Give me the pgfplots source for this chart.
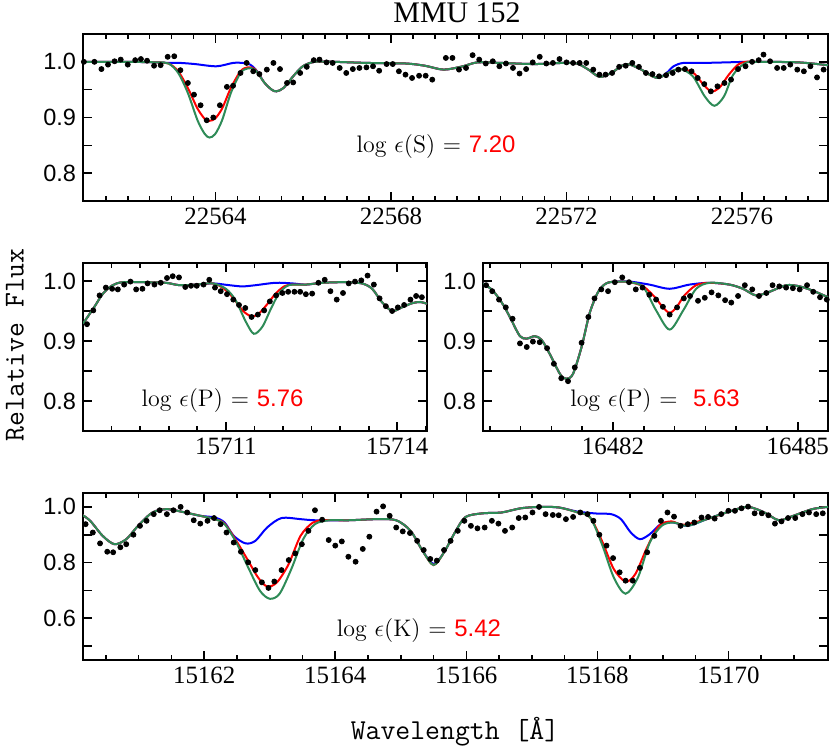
\documentclass[border=0pt]{standalone}
\usepackage{fontspec}
\usepackage{pgfplots}
\pgfplotsset{compat=1.18}
\newfontfamily\lsans{Liberation Sans}
\newfontfamily\lserif{Liberation Serif}
\definecolor{sgreen}{RGB}{46,139,87}
\pgfplotsset{
  panel/.style={scale only axis, anchor=south west,
    axis line style={line width=1bp},
    tick style={black, line width=0.8bp},
    major tick length=4.5bp, minor tick length=2.5bp,
    tick align=inside, scaled x ticks=false, scaled y ticks=false,
    xticklabel style={font=\lserif\fontsize{12.5}{12.5}\selectfont},
    yticklabel style={font=\lsans\fontsize{11.8}{11.8}\selectfont},
    clip=true},
  dots/.style={only marks, mark=*, mark size=1.25bp, black},
  mb/.style={blue, line width=1bp, smooth, mark=none},
  mr/.style={red, line width=1bp, smooth, mark=none},
  mg/.style={sgreen, line width=1bp, smooth, mark=none},
}
\newcommand{\ann}{\fontsize{12}{12}\selectfont}
\begin{document}
\begin{tikzpicture}
\useasboundingbox (0,0) rectangle (415.5bp,374.5bp);
% ---------------- top panel: S (x offset from 22560)
\begin{axis}[panel, at={(41.5bp,274bp)}, width=372.5bp, height=83.5bp,
  xmin=0.98, xmax=17.96, ymin=0.75, ymax=1.05,
  xtick={4,8,12,16}, xticklabels={22564,22568,22572,22576},
  minor xtick={1.5,2,...,17.5},
  ytick={0.8,0.85,0.9,0.95,1.0}, yticklabels={0.8,,0.9,,1.0}]
\addplot[mb] coordinates {(0.91,1.000) (2.00,1.000) (2.66,0.999) (2.93,0.998) (3.20,0.998) (3.53,0.996) (4.02,0.992) (4.40,0.998) (4.62,0.998) (4.79,0.995) (4.95,0.983) (5.11,0.963) (5.28,0.950) (5.39,0.947) (5.55,0.953) (5.77,0.974) (5.99,0.992) (6.26,1.000) (6.70,1.000) (7.46,0.998) (8.33,0.997) (8.77,0.993) (9.20,0.986) (9.64,0.992) (9.97,0.999) (10.51,0.998) (11.28,0.996) (12.15,0.998) (12.48,0.987) (12.75,0.973) (13.02,0.980) (13.35,0.996) (13.68,0.987) (14.06,0.971) (14.28,0.980) (14.44,0.992) (14.66,0.998) (15.09,0.998) (15.64,0.999) (16.08,1.000) (16.40,1.000) (17.28,0.999) (17.96,0.994)};
\addplot[mr] coordinates {(0.91,1.000) (2.00,1.000) (2.66,0.999) (2.93,0.997) (3.15,0.983) (3.37,0.953) (3.59,0.916) (3.77,0.896) (3.86,0.894) (3.99,0.898) (4.15,0.916) (4.35,0.953) (4.57,0.983) (4.73,0.990) (4.90,0.987) (5.11,0.963) (5.28,0.950) (5.39,0.947) (5.55,0.953) (5.77,0.974) (5.99,0.992) (6.26,1.000) (6.70,1.000) (7.46,0.998) (8.33,0.997) (8.77,0.993) (9.20,0.986) (9.64,0.992) (9.97,0.999) (10.51,0.998) (11.28,0.996) (12.15,0.998) (12.48,0.987) (12.75,0.973) (13.02,0.980) (13.35,0.996) (13.68,0.987) (14.06,0.971) (14.39,0.983) (14.60,0.987) (14.88,0.981) (15.09,0.962) (15.29,0.947) (15.48,0.953) (15.70,0.977) (15.91,0.995) (16.08,1.000) (16.40,1.000) (17.28,0.999) (17.96,0.994)};
\addplot[mg] coordinates {(0.91,1.000) (2.00,1.000) (2.66,0.999) (2.93,0.997) (3.15,0.980) (3.37,0.944) (3.59,0.895) (3.75,0.871) (3.86,0.864) (3.99,0.870) (4.15,0.895) (4.35,0.944) (4.57,0.980) (4.73,0.988) (4.90,0.986) (5.11,0.963) (5.28,0.950) (5.39,0.947) (5.55,0.953) (5.77,0.974) (5.99,0.992) (6.26,1.000) (6.70,1.000) (7.46,0.998) (8.33,0.997) (8.77,0.993) (9.20,0.986) (9.64,0.992) (9.97,0.999) (10.51,0.998) (11.28,0.996) (12.15,0.998) (12.48,0.987) (12.75,0.973) (13.02,0.980) (13.35,0.996) (13.68,0.987) (14.06,0.971) (14.39,0.983) (14.60,0.987) (14.88,0.974) (15.15,0.938) (15.37,0.921) (15.59,0.938) (15.80,0.977) (16.08,0.998) (16.40,1.000) (17.28,0.999) (17.96,0.994)};
\addplot[dots] coordinates {(1.00,1.000) (1.24,1.000) (1.40,0.987) (1.55,0.995) (1.70,1.001) (1.84,1.004) (2.00,0.995) (2.17,1.003) (2.30,1.005) (2.44,1.002) (2.60,0.993) (2.75,0.994) (2.91,1.009) (3.06,1.010) (3.20,0.985) (3.37,0.962) (3.51,0.941) (3.66,0.922) (3.80,0.895) (3.95,0.900) (4.10,0.922) (4.26,0.955) (4.40,0.957) (4.57,0.980) (4.71,0.998) (4.86,0.983) (5.00,0.978) (5.17,0.986) (5.32,0.998) (5.47,0.987) (5.63,0.962) (5.77,0.963) (5.93,0.980) (6.08,0.991) (6.24,1.003) (6.37,1.004) (6.53,0.999) (6.67,0.998) (6.83,0.989) (6.98,0.980) (7.13,0.987) (7.28,0.989) (7.44,0.990) (7.59,0.992) (7.73,0.984) (7.90,0.996) (8.04,0.996) (8.18,0.983) (8.33,0.977) (8.48,0.971) (8.64,0.975) (8.79,0.975) (8.94,0.968) (9.25,1.007) (9.40,1.007) (9.55,0.986) (9.71,0.989) (9.86,1.012) (10.01,1.004) (10.16,0.997) (10.32,1.001) (10.47,0.992) (10.62,0.997) (10.78,0.989) (10.93,0.979) (11.08,0.987) (11.23,0.999) (11.39,1.009) (11.54,0.997) (11.69,0.998) (11.84,1.005) (12.00,0.999) (12.15,0.998) (12.30,0.998) (12.45,0.998) (12.61,0.986) (12.75,0.977) (12.89,0.977) (13.04,0.980) (13.20,0.991) (13.35,0.993) (13.50,0.998) (13.65,0.991) (13.81,0.980) (13.96,0.978) (14.11,0.974) (14.27,0.976) (14.42,0.980) (14.55,0.986) (14.70,0.987) (14.85,0.983) (14.99,0.971) (15.14,0.960) (15.29,0.947) (15.44,0.956) (15.60,0.962) (15.75,0.968) (15.91,0.987) (16.08,0.992) (16.23,1.000) (16.38,1.003) (16.49,1.013) (16.64,1.001) (16.80,0.989) (16.95,0.989) (17.10,0.995) (17.26,0.986) (17.41,0.983) (17.56,0.992) (17.71,0.972) (17.86,0.986)};
\node[anchor=west, inner sep=0pt] at (axis cs:7.21,0.847) {\ann log $\epsilon$(S) = \textcolor{red}{\lsans 7.20}};
\end{axis}
% ---------------- middle left: P (x offset from 15708)
\begin{axis}[panel, at={(41.5bp,159bp)}, width=172bp, height=84bp,
  xmin=0.5, xmax=6.52, ymin=0.75, ymax=1.03,
  xtick={3,6}, xticklabels={15711,15714},
  minor xtick={1,1.5,...,6.5},
  ytick={0.8,0.85,0.9,0.95,1.0}, yticklabels={0.8,,0.9,,1.0}]
\addplot[mb] coordinates {(0.50,0.929) (0.68,0.954) (0.85,0.979) (1.02,0.993) (1.20,0.998) (1.61,0.998) (1.95,0.997) (2.19,0.993) (2.48,0.994) (2.77,0.996) (3.06,0.993) (3.29,0.991) (3.52,0.993) (3.87,0.997) (4.16,0.996) (4.40,0.994) (4.69,0.997) (5.09,0.998) (5.38,0.996) (5.56,0.987) (5.73,0.965) (5.91,0.950) (6.08,0.956) (6.26,0.963) (6.40,0.965) (6.52,0.962)};
\addplot[mr] coordinates {(0.50,0.929) (0.68,0.954) (0.85,0.979) (1.02,0.993) (1.20,0.998) (1.61,0.998) (1.95,0.997) (2.19,0.993) (2.48,0.994) (2.77,0.996) (2.94,0.989) (3.12,0.973) (3.29,0.951) (3.45,0.941) (3.58,0.946) (3.73,0.962) (3.87,0.979) (4.02,0.991) (4.16,0.994) (4.40,0.994) (4.69,0.997) (5.09,0.998) (5.38,0.996) (5.56,0.987) (5.73,0.965) (5.91,0.950) (6.08,0.956) (6.26,0.963) (6.40,0.965) (6.52,0.962)};
\addplot[mg] coordinates {(0.50,0.929) (0.68,0.954) (0.85,0.979) (1.02,0.993) (1.20,0.998) (1.61,0.998) (1.95,0.997) (2.19,0.993) (2.48,0.994) (2.77,0.996) (3.00,0.987) (3.17,0.968) (3.35,0.932) (3.49,0.912) (3.64,0.924) (3.79,0.954) (3.93,0.979) (4.10,0.993) (4.40,0.994) (4.69,0.997) (5.09,0.998) (5.38,0.996) (5.56,0.987) (5.73,0.965) (5.91,0.950) (6.08,0.956) (6.26,0.963) (6.40,0.965) (6.52,0.962)};
\addplot[dots] coordinates {(0.57,0.928) (0.68,0.951) (0.79,0.976) (0.90,0.989) (1.01,0.987) (1.11,0.986) (1.22,0.994) (1.33,0.999) (1.43,0.986) (1.54,0.987) (1.63,0.996) (1.75,0.994) (1.86,0.997) (1.97,1.005) (2.07,1.008) (2.18,1.006) (2.29,0.990) (2.39,0.992) (2.49,0.992) (2.61,0.994) (2.71,1.002) (2.81,0.989) (2.91,0.983) (3.02,0.978) (3.13,0.969) (3.23,0.960) (3.34,0.955) (3.45,0.940) (3.56,0.944) (3.67,0.951) (3.77,0.966) (3.88,0.976) (3.99,0.980) (4.09,0.982) (4.20,0.982) (4.30,0.982) (4.40,0.978) (4.51,0.979) (4.62,0.997) (4.73,1.002) (4.83,0.983) (4.94,0.969) (5.05,0.980) (5.15,0.996) (5.26,0.999) (5.37,1.001) (5.48,1.009) (5.59,0.994) (5.69,0.971) (5.80,0.958) (5.91,0.950) (6.01,0.956) (6.12,0.960) (6.23,0.969) (6.33,0.975) (6.43,0.973)};
\node[anchor=west, inner sep=0pt] at (axis cs:1.52,0.801) {\ann log $\epsilon$(P) = \textcolor{red}{\lsans 5.76}};
\end{axis}
% ---------------- middle right: P (x offset from 16479)
\begin{axis}[panel, at={(241.5bp,159bp)}, width=172.5bp, height=84bp,
  xmin=0.89, xmax=6.49, ymin=0.75, ymax=1.03,
  xtick={3,6}, xticklabels={16482,16485},
  minor xtick={1,1.5,...,6},
  ytick={0.8,0.85,0.9,0.95,1.0}, yticklabels={0.8,,0.9,,1.0}]
\addplot[mb] coordinates {(0.89,0.996) (1.05,0.984) (1.22,0.960) (1.35,0.935) (1.49,0.908) (1.60,0.904) (1.73,0.908) (1.84,0.902) (1.97,0.879) (2.14,0.845) (2.24,0.837) (2.35,0.845) (2.49,0.890) (2.62,0.946) (2.76,0.982) (2.89,0.996) (3.05,0.999) (3.27,0.999) (3.59,0.994) (3.92,0.987) (4.24,0.994) (4.57,0.997) (4.89,0.994) (5.11,0.987) (5.32,0.976) (5.54,0.982) (5.81,0.993) (6.03,0.991) (6.24,0.984) (6.49,0.973)};
\addplot[mr] coordinates {(0.89,0.996) (1.05,0.984) (1.22,0.960) (1.35,0.935) (1.49,0.908) (1.60,0.904) (1.73,0.908) (1.84,0.902) (1.97,0.879) (2.14,0.845) (2.24,0.837) (2.35,0.845) (2.49,0.890) (2.62,0.946) (2.76,0.982) (2.89,0.996) (3.05,0.999) (3.27,0.998) (3.49,0.991) (3.68,0.973) (3.81,0.956) (3.92,0.947) (4.03,0.956) (4.16,0.976) (4.35,0.993) (4.57,0.997) (4.89,0.994) (5.11,0.987) (5.32,0.976) (5.54,0.982) (5.81,0.993) (6.03,0.991) (6.24,0.984) (6.49,0.973)};
\addplot[mg] coordinates {(0.89,0.996) (1.05,0.984) (1.22,0.960) (1.35,0.935) (1.49,0.908) (1.60,0.904) (1.73,0.908) (1.84,0.902) (1.97,0.879) (2.14,0.845) (2.24,0.837) (2.35,0.845) (2.49,0.890) (2.62,0.946) (2.76,0.982) (2.89,0.996) (3.05,0.999) (3.27,0.998) (3.49,0.990) (3.70,0.951) (3.92,0.919) (4.14,0.951) (4.35,0.987) (4.57,0.997) (4.89,0.994) (5.11,0.987) (5.32,0.976) (5.54,0.982) (5.81,0.993) (6.03,0.991) (6.24,0.984) (6.49,0.973)};
\addplot[dots] coordinates {(0.94,0.993) (1.04,0.983) (1.15,0.969) (1.26,0.956) (1.37,0.937) (1.49,0.896) (1.60,0.890) (1.70,0.899) (1.81,0.898) (1.93,0.888) (2.04,0.862) (2.16,0.838) (2.27,0.833) (2.38,0.856) (2.49,0.897) (2.60,0.940) (2.70,0.971) (2.81,0.986) (2.92,0.983) (3.03,0.998) (3.15,1.006) (3.26,0.998) (3.37,0.986) (3.48,0.989) (3.59,0.977) (3.70,0.969) (3.81,0.957) (3.92,0.944) (4.04,0.956) (4.15,0.971) (4.25,0.975) (4.38,0.967) (4.49,0.972) (4.60,0.981) (4.71,0.976) (4.82,0.968) (4.92,0.964) (5.03,0.975) (5.14,0.993) (5.26,0.986) (5.37,0.975) (5.49,0.980) (5.59,0.993) (5.70,0.991) (5.81,0.989) (5.92,0.988) (6.03,0.986) (6.15,0.993) (6.25,0.982) (6.36,0.973) (6.47,0.969)};
\node[anchor=west, inner sep=0pt] at (axis cs:2.30,0.801) {\ann log $\epsilon$(P) =\ \ \textcolor{red}{\lsans 5.63}};
\end{axis}
% ---------------- bottom: K (x offset from 15160)
\begin{axis}[panel, at={(41.5bp,44.5bp)}, width=372.5bp, height=83.5bp,
  xmin=0.15, xmax=11.52, ymin=0.45, ymax=1.05,
  xtick={2,4,6,8,10}, xticklabels={15162,15164,15166,15168,15170},
  minor xtick={0.5,1,...,11},
  ytick={0.5,0.6,0.7,0.8,0.9,1.0}, yticklabels={,0.6,,0.8,,1.0}]
\addplot[mb] coordinates {(0.12,0.974) (0.26,0.950) (0.45,0.896) (0.63,0.866) (0.81,0.884) (0.99,0.932) (1.21,0.980) (1.43,0.992) (1.65,0.983) (1.94,0.968) (2.16,0.962) (2.31,0.944) (2.45,0.896) (2.63,0.869) (2.78,0.878) (2.96,0.926) (3.18,0.960) (3.47,0.956) (3.69,0.952) (4.20,0.952) (4.64,0.956) (4.93,0.952) (5.15,0.914) (5.33,0.843) (5.50,0.795) (5.66,0.837) (5.84,0.914) (5.99,0.964) (6.25,0.977) (6.54,0.980) (6.83,0.995) (7.12,1.000) (7.41,0.998) (7.70,0.983) (8.00,0.976) (8.21,0.974) (8.36,0.956) (8.51,0.908) (8.65,0.884) (8.80,0.902) (8.98,0.940) (9.16,0.944) (9.38,0.932) (9.67,0.956) (9.97,0.980) (10.29,1.000) (10.55,0.980) (10.77,0.952) (10.99,0.968) (11.28,0.992) (11.52,1.000)};
\addplot[mr] coordinates {(0.12,0.974) (0.26,0.950) (0.45,0.896) (0.63,0.866) (0.81,0.884) (0.99,0.932) (1.21,0.980) (1.43,0.992) (1.65,0.983) (1.94,0.968) (2.16,0.956) (2.31,0.940) (2.49,0.878) (2.67,0.807) (2.82,0.747) (2.96,0.714) (3.11,0.729) (3.29,0.795) (3.47,0.896) (3.66,0.944) (3.84,0.952) (4.20,0.952) (4.64,0.956) (4.93,0.952) (5.15,0.914) (5.33,0.843) (5.50,0.791) (5.66,0.837) (5.84,0.914) (5.99,0.964) (6.25,0.977) (6.54,0.980) (6.83,0.995) (7.12,1.000) (7.41,0.998) (7.70,0.980) (7.89,0.962) (8.07,0.878) (8.25,0.777) (8.43,0.732) (8.58,0.759) (8.76,0.855) (8.94,0.932) (9.13,0.948) (9.31,0.936) (9.67,0.956) (9.97,0.980) (10.29,1.000) (10.55,0.980) (10.77,0.952) (10.99,0.968) (11.28,0.992) (11.52,1.000)};
\addplot[mg] coordinates {(0.12,0.974) (0.26,0.950) (0.45,0.896) (0.63,0.866) (0.81,0.884) (0.99,0.932) (1.21,0.980) (1.43,0.992) (1.65,0.983) (1.94,0.968) (2.16,0.956) (2.31,0.938) (2.49,0.872) (2.67,0.783) (2.85,0.699) (3.00,0.670) (3.15,0.688) (3.33,0.777) (3.51,0.884) (3.69,0.938) (3.91,0.952) (4.20,0.952) (4.64,0.956) (4.93,0.952) (5.15,0.914) (5.33,0.843) (5.50,0.791) (5.66,0.837) (5.84,0.914) (5.99,0.964) (6.25,0.977) (6.54,0.980) (6.83,0.995) (7.12,1.000) (7.41,0.998) (7.70,0.980) (7.89,0.962) (8.07,0.866) (8.25,0.747) (8.43,0.688) (8.62,0.747) (8.80,0.872) (8.98,0.932) (9.16,0.944) (9.38,0.932) (9.67,0.956) (9.97,0.980) (10.29,1.000) (10.55,0.980) (10.77,0.952) (10.99,0.968) (11.28,0.992) (11.52,1.000)};
\addplot[dots] coordinates {(0.19,0.938) (0.30,0.908) (0.41,0.869) (0.52,0.839) (0.61,0.837) (0.72,0.855) (0.81,0.866) (0.92,0.900) (1.02,0.932) (1.12,0.950) (1.23,0.974) (1.32,0.988) (1.43,0.974) (1.53,0.988) (1.64,1.000) (1.74,0.980) (1.84,0.952) (1.94,0.940) (2.05,0.950) (2.15,0.960) (2.25,0.938) (2.34,0.908) (2.45,0.872) (2.56,0.839) (2.67,0.801) (2.78,0.773) (2.88,0.729) (2.98,0.709) (3.07,0.732) (3.18,0.773) (3.29,0.809) (3.39,0.833) (3.49,0.866) (3.59,0.914) (3.69,0.988) (3.80,0.954) (3.90,0.881) (4.00,0.861) (4.10,0.876) (4.20,0.821) (4.31,0.803) (4.42,0.849) (4.52,0.893) (4.63,0.983) (4.73,1.002) (4.83,0.968) (4.93,0.926) (5.03,0.912) (5.14,0.906) (5.25,0.878) (5.35,0.845) (5.45,0.813) (5.55,0.807) (5.66,0.845) (5.76,0.878) (5.87,0.914) (5.97,0.950) (6.07,0.932) (6.17,0.923) (6.28,0.926) (6.39,0.950) (6.49,0.940) (6.59,0.914) (6.70,0.926) (6.80,0.960) (6.90,0.962) (7.01,0.980) (7.11,1.000) (7.21,0.974) (7.32,0.971) (7.41,0.970) (7.52,0.956) (7.63,0.964) (7.74,0.980) (7.85,0.974) (7.94,0.950) (8.03,0.900) (8.14,0.861) (8.24,0.816) (8.34,0.765) (8.43,0.735) (8.54,0.735) (8.65,0.781) (8.76,0.837) (8.87,0.896) (8.97,0.950) (9.07,0.980) (9.17,0.965) (9.27,0.932) (9.38,0.938) (9.48,0.944) (9.59,0.962) (9.69,0.964) (9.79,0.958) (9.89,0.974) (10.00,0.986) (10.10,0.986) (10.20,0.995) (10.30,1.001) (10.40,0.977) (10.51,0.977) (10.61,0.970) (10.71,0.940) (10.81,0.948) (10.91,0.960) (11.02,0.960) (11.13,0.974) (11.23,0.980) (11.34,0.974) (11.44,0.977)};
\node[anchor=west, inner sep=0pt] at (axis cs:4.02,0.556) {\ann log $\epsilon$(K) = \textcolor{red}{\lsans 5.42}};
\end{axis}
% ---------------- titles
\node[font=\lserif\fontsize{15}{15}\selectfont] at (228.5bp,368bp) {MMU 152};
\node[rotate=90, font=\ttfamily\fontsize{14.5}{14.5}\selectfont] at (7.5bp,202bp) {Relative Flux};
\node[font=\ttfamily\fontsize{14.5}{14.5}\selectfont] at (227.5bp,8.5bp) {Wavelength [Å]};
\end{tikzpicture}
\end{document}
